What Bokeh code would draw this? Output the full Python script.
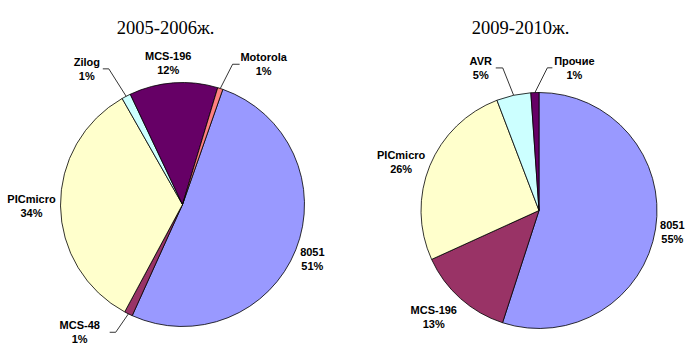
import math
from bokeh.plotting import figure
from bokeh.models import Range1d, ColumnDataSource
from bokeh.embed import file_html
from bokeh.resources import INLINE
from bokeh.core.properties import value

# ---------------- data ----------------
left_title = "2005-2006ж."
left_names = ["8051", "MCS-48", "PICmicro", "Zilog", "MCS-196", "Motorola"]
left_values = [51.4, 1.1, 33.9, 1.2, 11.7, 0.7]
left_colors = ["#9999FF", "#993366", "#FFFFCC", "#CCFFFF", "#660066", "#FF8080"]

right_title = "2009-2010ж."
right_names = ["8051", "MCS-196", "PICmicro", "AVR", "Прочие"]
right_values = [55.0, 13.2, 26.0, 4.7, 1.1]
right_colors = ["#9999FF", "#993366", "#FFFFCC", "#CCFFFF", "#660066"]

# ---------------- layout ----------------
W, H = 691, 349
SCREEN_H = 357

def Y(sy):
    return SCREEN_H - sy

# label layout: (angle nudge deg, distance from centre px)
left_lab = [(1.1, 141), (12.5, 164), (0.3, 151), (-7.7, 166), (-1.5, 142), (12, 162)]
right_lab = [(0, 135), (2.8, 150), (-3.1, 146), (-9.8, 154), (15.9, 147)]
# leaders: index -> (start dx from label centre, elbow dx)
left_lead = {1: (30, 36), 3: (16, 22), 5: (-24, -31)}
right_lead = {3: (15, 22), 4: (-22, -27)}

p = figure(width=W, height=H, x_range=Range1d(0, W),
           y_range=Range1d(SCREEN_H - H, SCREEN_H),
           output_backend="svg", toolbar_location=None, min_border=0,
           x_axis_type=None, y_axis_type=None, title=None)
p.outline_line_color = None
p.background_fill_color = "white"
p.border_fill_color = "white"

LABEL_FONT = value("Liberation Sans")


def draw_pie(cx, cy, r, start_deg, names, values, colors, lab, leads, title, tx, ty):
    total = float(sum(values))
    starts, ends = [], []
    a = start_deg
    for v in values:
        span = v / total * 360.0
        starts.append(a)
        ends.append(a + span)
        a += span
    src = ColumnDataSource(dict(
        start=[math.radians(90 - e) for e in ends],
        end=[math.radians(90 - s) for s in starts],
        color=colors))
    p.wedge(x=cx, y=Y(cy), radius=r, start_angle="start", end_angle="end",
            fill_color="color", line_color="#000000", line_width=0.8, source=src)

    lx, ly1, ly2, pct = [], [], [], []
    for i, v in enumerate(values):
        mid = (starts[i] + ends[i]) / 2.0
        dth, dist = lab[i]
        ang = math.radians(mid + dth)
        x = cx + dist * math.sin(ang)
        sy = cy - dist * math.cos(ang)
        lx.append(x)
        ly1.append(Y(sy - 7))
        ly2.append(Y(sy + 7))
        pct.append(f"{round(v)}%")
        if i in leads:
            s_dx, e_dx = leads[i]
            ma = math.radians(mid)
            ex = cx + r * math.sin(ma)
            ey = cy - r * math.cos(ma)
            p.line(x=[x + s_dx, x + e_dx, ex], y=[Y(sy), Y(sy), Y(ey)],
                   line_color="#000000", line_width=0.8)
    p.text(x=lx, y=ly1, text=list(names), text_font=LABEL_FONT,
           text_font_style="bold", text_font_size="11px",
           text_align="center", text_baseline="middle", text_color="#000000")
    p.text(x=lx, y=ly2, text=pct, text_font=LABEL_FONT,
           text_font_style="bold", text_font_size="11px",
           text_align="center", text_baseline="middle", text_color="#000000")
    p.text(x=[tx], y=[Y(ty)], text=[title], text_font=value("Liberation Serif"),
           text_font_size="18.5px", text_align="center", text_baseline="middle",
           text_color="#000000")


draw_pie(182, 204, 122, 19.3, left_names, left_values, left_colors,
         left_lab, left_lead, left_title, 165, 27)
draw_pie(538.5, 210, 118, 0.0, right_names, right_values, right_colors,
         right_lab, right_lead, right_title, 520, 27)

open("out.html", "w").write(file_html(p, INLINE))
